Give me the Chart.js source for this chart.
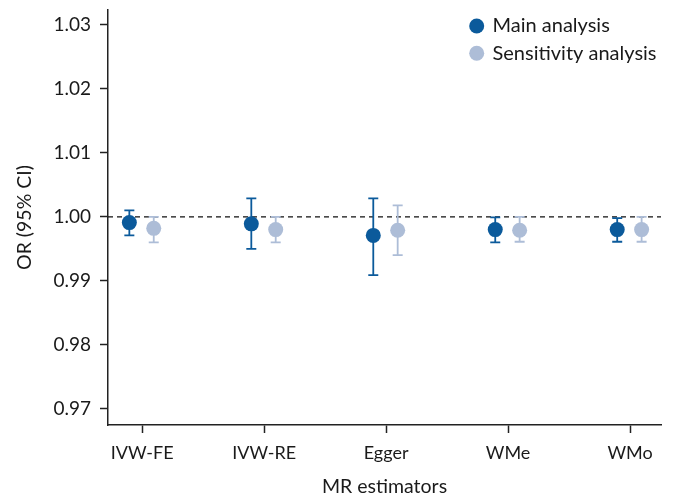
<!DOCTYPE html>
<html>
<head>
<meta charset="utf-8">
<script src="https://cdn.jsdelivr.net/npm/chart.js@4.4.1/dist/chart.umd.min.js"></script>
<style>
html,body{margin:0;padding:0;background:#fff;}
#wrap{width:677px;height:498px;}
</style>
</head>
<body>
<div id="wrap"><canvas id="grafico" width="677" height="498"></canvas></div>
<script>
const estimadores = ["IVW-FE","IVW-RE","Egger","WMe","WMo"];

const mainOR = [0.9991, 0.9989, 0.9971, 0.9980, 0.9980];
const mainLo = [0.9971, 0.9950, 0.9909, 0.9960, 0.9961];
const mainHi = [1.0010, 1.0029, 1.0029, 0.9999, 0.9998];

const sensOR = [0.9982, 0.9980, 0.9979, 0.9979, 0.9980];
const sensLo = [0.9960, 0.9960, 0.9940, 0.9961, 0.9961];
const sensHi = [1.0000, 1.0000, 1.0018, 1.0000, 1.0000];

const yTicks = [0.97, 0.98, 0.99, 1.00, 1.01, 1.02, 1.03];

const corMain = "#0b5a9b";
const corSens = "#adbdd7";
const fonte = "Lato, 'Noto Sans', sans-serif";

function pontos(vals, lo, hi, desloc){
return vals.map((v,i)=>({ x: i+1+desloc, y: v, lo: lo[i], hi: hi[i] }));
}

// barras de erro e linha de referencia
const errorBars = {
id:"errorBars",
beforeDatasetsDraw(chart){
const ctx = chart.ctx;
const xs = chart.scales.x, ys = chart.scales.y;
const area = chart.chartArea;
// linha tracejada em 1.00
ctx.save();
ctx.strokeStyle = "#111";
ctx.lineWidth = 1.2;
ctx.setLineDash([5,4]);
ctx.beginPath();
const y1 = ys.getPixelForValue(1);
ctx.moveTo(area.left, y1);
ctx.lineTo(area.right, y1);
ctx.stroke();
ctx.setLineDash([]);
chart.data.datasets.forEach(ds=>{
ctx.strokeStyle = ds.borderColor;
ctx.lineWidth = 1.8;
ds.data.forEach(p=>{
const px = xs.getPixelForValue(p.x);
const pl = ys.getPixelForValue(p.lo);
const ph = ys.getPixelForValue(p.hi);
ctx.beginPath();
ctx.moveTo(px, pl); ctx.lineTo(px, ph);
ctx.moveTo(px-5, pl); ctx.lineTo(px+5, pl);
ctx.moveTo(px-5, ph); ctx.lineTo(px+5, ph);
ctx.stroke();
});
});
ctx.restore();
}
};

// legenda desenhada dentro da area
const legenda = {
id:"legenda",
afterDraw(chart){
const ctx = chart.ctx;
ctx.save();
ctx.font = "20px " + fonte;
ctx.textBaseline = "middle";
chart.data.datasets.forEach((ds,i)=>{
const y = 26 + i*27.3;
ctx.fillStyle = ds.backgroundColor;
ctx.beginPath();
ctx.arc(476.7, y, 7.5, 0, Math.PI*2);
ctx.fill();
ctx.fillStyle = "#1a1a1a";
ctx.fillText(ds.label, 492.5, y);
});
ctx.restore();
}
};

new Chart(document.getElementById("grafico"),{
type:"scatter",
data:{
datasets:[
{
label:"Main analysis",
data: pontos(mainOR, mainLo, mainHi, -0.105),
backgroundColor: corMain,
borderColor: corMain,
pointRadius: 7.5,
pointBorderWidth: 0
},
{
label:"Sensitivity analysis",
data: pontos(sensOR, sensLo, sensHi, 0.095),
backgroundColor: corSens,
borderColor: corSens,
pointRadius: 7.5,
pointBorderWidth: 0
}
]
},
options:{
responsive:false,
animation:false,
layout:{ padding:{ top:10, right:16, left:0, bottom:0 } },
plugins:{
legend:{ display:false },
tooltip:{ enabled:false }
},
scales:{
x:{
type:"linear",
min:0.72,
max:5.254,
afterBuildTicks(axis){
axis.ticks = estimadores.map((e,i)=>({ value:i+1 }));
},
afterFit(axis){ axis.height = 73; axis.paddingLeft = 0; axis.paddingRight = 0; },
grid:{ drawOnChartArea:false, drawTicks:true, tickLength:8, color:"#222", tickWidth:1.5 },
border:{ color:"#222", width:1.5 },
ticks:{
color:"#1a1a1a",
font:{ family:fonte, size:18 },
padding:9,
maxRotation:0,
callback:(v)=> estimadores[Math.round(v)-1] || ""
},
title:{
display:true,
text:"MR estimators",
color:"#1a1a1a",
font:{ family:fonte, size:19.5 },
padding:{ top:5, bottom:0 }
}
},
y:{
type:"linear",
min:0.96745,
max:1.03234,
afterBuildTicks(axis){
axis.ticks = yTicks.map(v=>({ value:v }));
},
afterFit(axis){ axis.width = 108; axis.paddingTop = 0; axis.paddingBottom = 0; },
grid:{ drawOnChartArea:false, drawTicks:true, tickLength:8, color:"#222", tickWidth:1.5 },
border:{ color:"#222", width:1.5 },
ticks:{
color:"#1a1a1a",
font:{ family:fonte, size:19 },
padding:9,
callback:(v)=> v.toFixed(2)
},
title:{
display:true,
text:"OR (95% CI)",
color:"#1a1a1a",
font:{ family:fonte, size:19.5 },
padding:{ top:13, bottom:4 }
}
}
}
},
plugins:[errorBars, legenda]
});
</script>
</body>
</html>
